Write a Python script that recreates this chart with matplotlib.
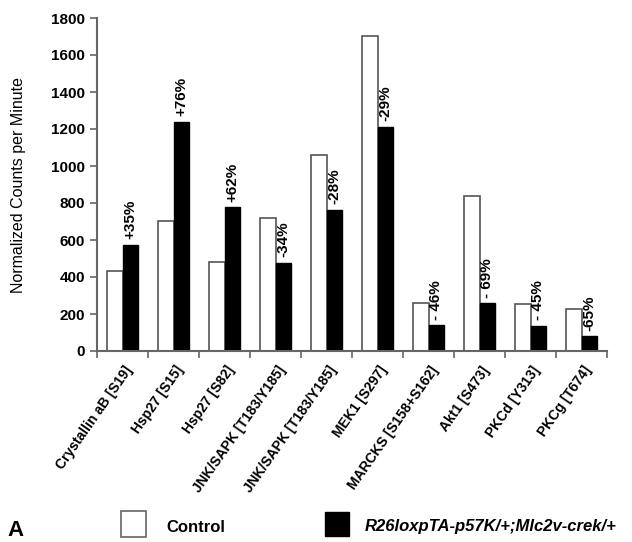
import numpy as np
import matplotlib
matplotlib.use("Agg")
import matplotlib.pyplot as plt
from matplotlib.patches import Rectangle
from matplotlib.transforms import ScaledTranslation

categories = ["Crystallin aB [S19]", "Hsp27 [S15]", "Hsp27 [S82]",
              "JNK/SAPK [T183/Y185]", "JNK/SAPK [T183/Y185]", "MEK1 [S297]",
              "MARCKS [S158+S162]", "Akt1 [S473]", "PKCd [Y313]", "PKCg [T674]"]
control = [430, 705, 482, 718, 1062, 1703, 258, 836, 252, 228]
mutant = [574, 1238, 778, 476, 762, 1211, 139, 258, 135, 80]
changes = ["+35%", "+76%", "+62%", "-34%", "-28%", "-29%",
           "- 46%", "- 69%", "- 45%", "-65%"]
yticks = [0, 200, 400, 600, 800, 1000, 1200, 1400, 1600, 1800]

plt.rcParams['font.family'] = ['Liberation Sans', 'DejaVu Sans']

W, H = 632, 542
fig = plt.figure(figsize=(W / 100, H / 100), dpi=100)
ax = fig.add_axes([97 / W, 1 - 351 / H, 510 / W, 333 / H])

x = np.arange(len(categories))
bw = 0.3
edge = '#555555'
ax.bar(x - 0.15, control, width=bw, color='white', edgecolor=edge, linewidth=1.2)
ax.bar(x + 0.15, mutant, width=bw, color='black', edgecolor='black', linewidth=1.0)

for xi, v, t in zip(x, mutant, changes):
    ax.annotate(t, (xi + 0.15, v), xytext=(0, 4), textcoords='offset points',
                rotation=90, ha='center', va='bottom', fontsize=11, fontweight='bold')

ax.set_xlim(-0.5, len(categories) - 0.5)
ax.set_ylim(0, 1800)
ax.set_yticks(yticks)
ax.set_yticklabels([str(v) for v in yticks], fontsize=11, fontweight='bold')
ax.tick_params(axis='y', length=5, width=1.2, color='#666666', pad=3.5)

ax.set_xticks(x)
ax.set_xticklabels(categories, rotation=55, ha='right', va='center',
                   rotation_mode='anchor', fontsize=10, fontweight='bold')
ax.set_xticks(np.arange(len(categories) + 1) - 0.5, minor=True)
ax.tick_params(axis='x', which='major', length=0, pad=12)
ax.tick_params(axis='x', which='minor', length=5, width=1.2, color='#666666')
off = ScaledTranslation(7 / 100, 0, fig.dpi_scale_trans)
for lab in ax.get_xticklabels():
    lab.set_transform(lab.get_transform() + off)

for s in ['top', 'right']:
    ax.spines[s].set_visible(False)
for s in ['left', 'bottom']:
    ax.spines[s].set_color('#666666')
    ax.spines[s].set_linewidth(1.5)

fig.text(19 / W, 1 - 185 / H, "Normalized Counts per Minute", rotation=90,
         ha='center', va='center', fontsize=11.5)

# legend
fig.add_artist(Rectangle((121 / W, 1 - 537 / H), 25 / W, 26 / H, transform=fig.transFigure,
                         facecolor='white', edgecolor='#666666', linewidth=1.2))
fig.text(166 / W, 1 - 527 / H, "Control", ha='left', va='center', fontsize=12, fontweight='bold')
fig.add_artist(Rectangle((325 / W, 1 - 536 / H), 24 / W, 24 / H, transform=fig.transFigure,
                         facecolor='black', edgecolor='black', linewidth=1.0))
fig.text(365 / W, 1 - 526 / H, "R26loxpTA-p57K/+;Mlc2v-crek/+", ha='left', va='center',
         fontsize=12, fontweight='bold', style='italic')
fig.text(7 / W, 1 - 541 / H, "A", ha='left', va='bottom', fontsize=16, fontweight='bold')

fig.savefig("out.png", dpi=100)
